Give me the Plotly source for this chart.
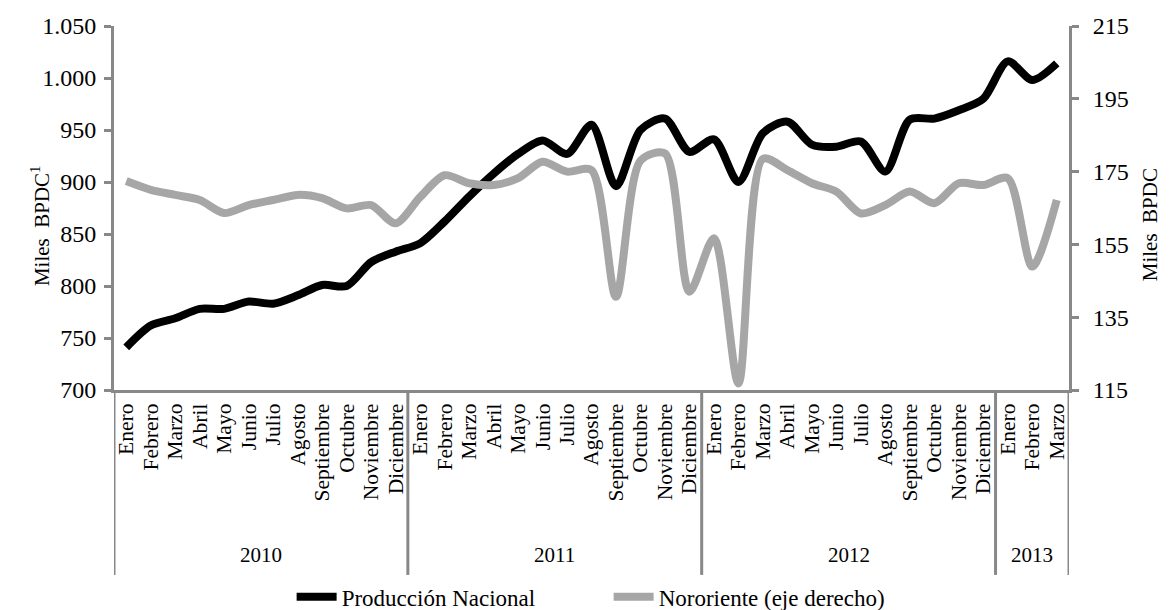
import plotly.graph_objects as go

months = ["Enero", "Febrero", "Marzo", "Abril", "Mayo", "Junio", "Julio", "Agosto",
          "Septiembre", "Octubre", "Noviembre", "Diciembre"]
years = ["2010"] * 12 + ["2011"] * 12 + ["2012"] * 12 + ["2013"] * 3
month_labels = months * 3 + months[:3]

produccion_nacional = [741, 762, 769, 778, 778, 785, 783, 791, 801, 800, 823, 833,
                       841, 862, 886, 908, 927, 940, 927, 955, 896, 950, 961, 929,
                       941, 900, 947, 958, 936, 934, 939, 910, 960, 961, 969, 980,
                       1016, 998, 1014]
nororiente = [172.4, 170.0, 168.6, 167.2, 163.6, 165.8, 167.2, 168.6, 167.7, 164.9, 165.8, 160.8,
              168.0, 174.0, 171.8, 171.3, 173.2, 177.7, 175.0, 175.4, 140.6, 178.0, 180.0, 142.0,
              156.7, 116.8, 178.5, 175.4, 171.8, 169.5, 163.5, 165.8, 169.5, 166.3, 171.8, 171.3,
              173.2, 148.9, 167.2]

left_ticks = [700, 750, 800, 850, 900, 950, 1000, 1050]
right_ticks = [115, 135, 155, 175, 195, 215]

serif = "Liberation Serif"
axis_gray = "#888888"

idx = list(range(len(month_labels)))

fig = go.Figure()
fig.add_trace(go.Scatter(
    x=idx, y=produccion_nacional, name="Producción Nacional",
    mode="lines", line=dict(color="black", width=8, shape="spline", smoothing=0.8),
))
fig.add_trace(go.Scatter(
    x=idx, y=nororiente, name="Nororiente (eje derecho)",
    mode="lines", line=dict(color="#a6a6a6", width=8, shape="spline", smoothing=0.8),
    yaxis="y2",
))

# year groups (from the data): label in the middle, divider lines at the edges
groups = []
for i, yr in enumerate(years):
    if not groups or groups[-1][0] != yr:
        groups.append([yr, i, i])
    else:
        groups[-1][2] = i

annotations = []
shapes = []
for yr, start, end in groups:
    annotations.append(dict(text=yr, x=(start + end) / 2, xref="x", y=-0.453, yref="paper",
                            xanchor="center", yanchor="middle", showarrow=False,
                            font=dict(family=serif, size=21, color="black")))
boundaries = [groups[0][1] - 0.5] + [g[2] + 0.5 for g in groups]
for b in boundaries:
    shapes.append(dict(type="line", xref="x", yref="paper", x0=b, x1=b, y0=0, y1=-0.508,
                       line=dict(color=axis_gray, width=3)))

annotations += [
    dict(text="Miles  BPDC<sup>1</sup>", xref="paper", yref="paper",
         x=-0.0775, y=0.453, xanchor="center", yanchor="middle", textangle=-90,
         showarrow=False, font=dict(family=serif, size=21, color="black")),
    dict(text="Miles  BPDC", xref="paper", yref="paper",
         x=1.085, y=0.453, xanchor="center", yanchor="middle", textangle=-90,
         showarrow=False, font=dict(family=serif, size=21, color="black")),
]

# page body has an 8px margin, so the figure is 8px smaller and margins shifted
fig.update_layout(
    width=1161, height=602,
    margin=dict(l=106, r=100, t=18, b=220, autoexpand=False),
    plot_bgcolor="white", paper_bgcolor="white",
    separators=",.",
    font=dict(family=serif, size=21, color="black"),
    showlegend=True,
    legend=dict(orientation="h", x=0.186, xanchor="left", y=-0.568, yanchor="middle",
                font=dict(family=serif, size=23, color="black"), tracegroupgap=0,
                itemwidth=40, entrywidth=262),
    xaxis=dict(
        range=[-0.5, len(idx) - 0.5], tickmode="array", tickvals=idx, ticktext=month_labels,
        showline=True, linecolor=axis_gray, linewidth=3, ticks="", tickangle=-90,
        showgrid=False, zeroline=False, ticklabelstandoff=2,
        tickfont=dict(family=serif, size=21.5, color="black"),
    ),
    yaxis=dict(
        range=[700, 1050], tickvals=left_ticks, tickformat=",.0f",
        showline=True, linecolor=axis_gray, linewidth=3, ticks="outside",
        tickcolor=axis_gray, tickwidth=3, ticklen=7, showgrid=False, zeroline=False,
        ticklabelstandoff=3,
        tickfont=dict(family=serif, size=24, color="black"),
    ),
    yaxis2=dict(
        range=[115, 215], tickvals=right_ticks, overlaying="y", side="right",
        showline=True, linecolor=axis_gray, linewidth=3, ticks="outside",
        tickcolor=axis_gray, tickwidth=3, ticklen=7, showgrid=False, zeroline=False,
        ticklabelstandoff=9,
        tickfont=dict(family=serif, size=24, color="black"),
    ),
    annotations=annotations,
    shapes=shapes,
)

fig.write_html("out.html")
